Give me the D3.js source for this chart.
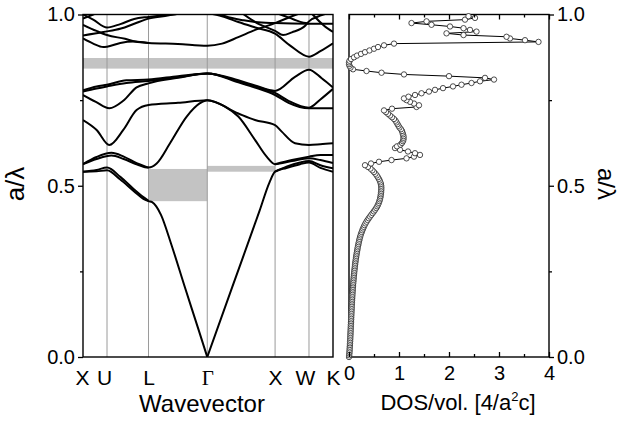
<!DOCTYPE html>
<html><head><meta charset="utf-8">
<script src="https://cdn.jsdelivr.net/npm/d3@7"></script>
<style>
body{margin:0;background:#fff}
svg{display:block}
text{font-family:"Liberation Sans",Arial,Helvetica,sans-serif;fill:#000}
</style>
</head><body>
<svg id="c" width="621" height="424"></svg>
<script>
// ---------- data ----------
const symLabels = ["X", "U", "L", "\u0393", "X", "W", "K"];
const symK = [0, 0.354, 0.966, 1.832, 2.832, 3.332, 3.686];

const freqTicks = [0, 0.5, 1.0];
const freqMinor = [0.25, 0.75];
const dosTicks = [0, 1, 2, 3, 4];
const dosMinor = [0.5, 1.5, 2.5, 3.5];

// complete gap and partial (direction) gaps: [kStart, kEnd, fLow, fHigh]
const fullGap = [0, 3.686, 0.842, 0.873];
const partialGaps = [
  [0.966, 1.832, 0.455, 0.549],
  [1.832, 2.832, 0.541, 0.558]
];

// photonic bands: [k, a/lambda]
const bandAcousticLeft1 = [[0,0.541],[0.2,0.542],[0.354,0.545],[0.55,0.518],[0.75,0.484],[0.89,0.462],[0.966,0.455],[1.02,0.452],[1.08,0.44],[1.15,0.415],[1.3,0.33],[1.5,0.205],[1.7,0.082],[1.832,0]];
const bandAcousticLeft2 = [[0,0.541],[0.2,0.546],[0.354,0.553],[0.55,0.526],[0.75,0.49],[0.89,0.467],[0.966,0.456]];
const bandAcousticRight1 = [[1.832,0],[2.2,0.204],[2.6,0.425],[2.75,0.51],[2.832,0.541],[3.0,0.552],[3.2,0.563],[3.332,0.568],[3.5,0.552],[3.686,0.541]];
const bandAcousticRight2 = [[2.832,0.541],[3.0,0.556],[3.2,0.568],[3.332,0.572],[3.5,0.56],[3.686,0.551]];
const band3 = [[0,0.563],[0.2,0.578],[0.42,0.588],[0.6,0.578],[0.8,0.562],[0.966,0.553],[1.086,0.565],[1.283,0.624],[1.529,0.702],[1.725,0.741],[1.832,0.75],[2.094,0.731],[2.29,0.702],[2.536,0.634],[2.708,0.585],[2.832,0.563],[3.08,0.572],[3.332,0.58],[3.5,0.575],[3.686,0.566]];
const band4Left = [[0,0.563],[0.2,0.584],[0.42,0.596],[0.6,0.585],[0.8,0.565],[0.966,0.553]];
const band4Right = [[2.832,0.563],[3.08,0.575],[3.332,0.585],[3.5,0.59],[3.686,0.59]];
const band5 = [[0,0.692],[0.201,0.663],[0.388,0.619],[0.594,0.663],[0.79,0.721],[0.966,0.736],[1.4,0.742],[1.832,0.75],[2.29,0.711],[2.536,0.692],[2.832,0.677],[2.93,0.658],[3.126,0.624],[3.332,0.619],[3.5,0.621],[3.686,0.624]];
const band7 = [[0,0.765],[0.19,0.745],[0.388,0.726],[0.594,0.748],[0.79,0.787],[0.966,0.799],[1.4,0.815],[1.832,0.828],[2.29,0.802],[2.536,0.787],[2.832,0.765],[3.03,0.742],[3.332,0.726],[3.5,0.726],[3.686,0.726]];
const band8 = [[0,0.775],[0.2,0.784],[0.354,0.79],[0.64,0.8],[0.966,0.806],[1.4,0.817],[1.832,0.828],[2.29,0.805],[2.536,0.79],[2.832,0.771],[3.03,0.748],[3.332,0.728],[3.5,0.752],[3.686,0.783]];
const band9 = [[0,0.779],[0.2,0.79],[0.354,0.795],[0.64,0.808],[0.966,0.81],[1.4,0.82],[1.832,0.828],[2.29,0.808],[2.536,0.793],[2.832,0.777],[3.126,0.818],[3.332,0.839],[3.519,0.814],[3.686,0.787]];
const bandTop1 = [[0,0.930],[0.15,0.915],[0.3,0.905],[0.354,0.906],[0.55,0.917],[0.75,0.921],[0.966,0.917],[1.4,0.914],[1.832,0.909],[2.05,0.915],[2.29,0.934],[2.54,0.955],[2.832,0.975],[3.08,0.995],[3.332,1.012]];
const bandTop2 = [[0,0.970],[0.2,0.952],[0.354,0.94],[0.62,0.929],[0.77,0.921],[0.966,0.917]];
const bandTop3 = [[0,0.939],[0.3,0.949],[0.56,0.959],[0.755,0.973],[0.966,0.988],[1.25,0.997],[1.5,1.005],[1.832,1.01]];
const bandTop4 = [[0,1.0],[0.15,0.985],[0.354,0.962],[0.55,0.972],[0.755,0.987],[0.966,0.993],[1.3,1.0],[1.832,1.005]];
const bandTop5 = [[0,0.988],[0.15,1.0],[0.3,1.012]];
const bandTop6 = [[1.832,1.005],[2.05,0.995],[2.29,0.978],[2.54,0.962],[2.832,0.944],[3.05,0.91],[3.332,0.877],[3.5,0.893],[3.686,0.916]];
const bandTop7 = [[1.832,1.02],[2.1,0.995],[2.37,0.983],[2.54,0.978],[2.832,0.975],[3.332,0.973],[3.686,0.973]];
const bandTop8 = [[2.29,1.012],[2.54,0.978],[2.832,0.952],[2.95,0.94],[3.08,0.948],[3.28,0.968],[3.332,0.98],[3.52,0.998],[3.686,1.01]];
const bandTop9 = [[3.3,1.02],[3.4,0.997],[3.55,0.968],[3.686,0.949]];
const bandTop10 = [[2.75,1.01],[2.95,0.997],[3.1,0.986],[3.25,0.976],[3.332,0.974]];

const bands = [bandAcousticLeft1, bandAcousticLeft2, bandAcousticRight1, bandAcousticRight2,
  band3, band4Left, band4Right, band5, band7, band8, band9,
  bandTop1, bandTop2, bandTop3, bandTop4, bandTop5, bandTop6, bandTop7, bandTop8, bandTop9, bandTop10];

// density of states: [a/lambda, DOS]
const dosPoints = [
[0.000,0.000],[0.005,0.004],[0.010,0.007],[0.015,0.010],[0.020,0.012],[0.025,0.014],[0.030,0.016],[0.035,0.018],[0.040,0.020],[0.045,0.022],
[0.050,0.024],[0.055,0.026],[0.060,0.027],[0.065,0.029],[0.070,0.030],[0.075,0.032],[0.080,0.033],[0.085,0.035],[0.090,0.036],[0.095,0.038],
[0.100,0.040],[0.105,0.041],[0.110,0.043],[0.115,0.044],[0.120,0.046],[0.125,0.047],[0.130,0.049],[0.135,0.050],[0.140,0.052],[0.145,0.054],
[0.150,0.055],[0.155,0.057],[0.160,0.059],[0.165,0.061],[0.170,0.063],[0.175,0.065],[0.180,0.067],[0.185,0.069],[0.190,0.071],[0.195,0.074],
[0.200,0.076],[0.205,0.079],[0.210,0.081],[0.215,0.084],[0.220,0.087],[0.225,0.090],[0.230,0.093],[0.235,0.096],[0.240,0.099],[0.245,0.103],
[0.250,0.106],[0.255,0.110],[0.260,0.114],[0.265,0.118],[0.270,0.122],[0.275,0.126],[0.280,0.131],[0.285,0.136],[0.290,0.141],[0.295,0.146],
[0.300,0.151],[0.305,0.157],[0.310,0.163],[0.315,0.169],[0.320,0.175],[0.325,0.182],[0.330,0.189],[0.335,0.196],[0.340,0.204],[0.345,0.212],
[0.350,0.221],[0.355,0.231],[0.360,0.242],[0.365,0.254],[0.370,0.267],[0.375,0.281],[0.380,0.296],[0.385,0.312],[0.390,0.330],[0.395,0.350],
[0.400,0.372],[0.405,0.395],[0.410,0.420],[0.415,0.446],[0.420,0.472],[0.425,0.498],[0.430,0.522],[0.435,0.545],[0.440,0.565],[0.445,0.582],
[0.450,0.596],[0.455,0.608],[0.460,0.618],[0.465,0.626],[0.470,0.632],[0.475,0.637],[0.480,0.641],[0.485,0.644],[0.490,0.646],[0.495,0.646],
[0.500,0.644],[0.505,0.638],[0.510,0.628],[0.515,0.615],[0.520,0.598],[0.525,0.578],[0.530,0.556],[0.535,0.530],[0.540,0.500],[0.545,0.468],
[0.550,0.430],[0.555,0.380],[0.560,0.320],[0.565,0.440],[0.570,0.600],[0.575,0.850],[0.580,1.150],[0.585,1.300],[0.590,1.420],[0.595,1.320],
[0.600,1.180],[0.605,1.020],[0.610,0.920],[0.615,0.960],[0.620,1.030],[0.625,1.060],[0.630,1.080],[0.635,1.090],[0.640,1.090],[0.645,1.090],
[0.650,1.080],[0.655,1.070],[0.660,1.060],[0.665,1.040],[0.670,1.010],[0.675,0.990],[0.680,0.970],[0.685,0.950],[0.690,0.930],[0.695,0.900],
[0.700,0.860],[0.705,0.820],[0.710,0.780],[0.715,0.740],[0.720,0.700],[0.725,0.860],[0.730,1.350],[0.735,1.400],[0.740,1.300],[0.745,1.220],
[0.750,1.150],[0.755,1.100],[0.760,1.190],[0.765,1.320],[0.770,1.450],[0.775,1.600],[0.780,1.720],[0.785,1.880],[0.790,2.080],[0.795,2.250],
[0.800,2.450],[0.805,2.620],[0.810,2.900],[0.815,2.720],[0.820,2.000],[0.825,1.100],[0.830,0.650],[0.835,0.350],[0.840,0.080],[0.845,0.030],
[0.850,0.010],[0.855,0.000],[0.860,0.000],[0.865,0.010],[0.870,0.040],[0.875,0.100],[0.880,0.160],[0.885,0.240],[0.890,0.320],[0.895,0.410],
[0.900,0.500],[0.905,0.580],[0.910,0.700],[0.915,0.900],[0.920,3.790],[0.925,3.520],[0.930,3.220],[0.935,3.150],[0.940,2.290],[0.945,1.950],
[0.950,2.550],[0.955,2.420],[0.960,2.290],[0.965,2.020],[0.970,1.650],[0.975,1.250],[0.980,1.550],[0.985,2.320],[0.990,2.520],[0.995,2.390]
];

// ---------- drawing ----------
const svg = d3.select("#c");
const L = {x0: 83, x1: 333, y0: 14.5, y1: 357};
const R = {x0: 349, x1: 549};

const xK = d3.scaleLinear().domain([0, 3.686]).range([L.x0, L.x1]);
const yF = d3.scaleLinear().domain([0, 1]).range([L.y1, L.y0]);
const xD = d3.scaleLinear().domain([0, 4]).range([R.x0, R.x1]);

svg.append("defs").append("clipPath").attr("id", "clipL")
  .append("rect").attr("x", L.x0).attr("y", L.y0).attr("width", L.x1 - L.x0).attr("height", L.y1 - L.y0);

const gL = svg.append("g").attr("clip-path", "url(#clipL)");

// gaps
const gapColor = "#c3c3c3";
[fullGap, ...partialGaps].forEach(g => {
  gL.append("rect")
    .attr("x", xK(g[0])).attr("width", xK(g[1]) - xK(g[0]))
    .attr("y", yF(g[3])).attr("height", yF(g[2]) - yF(g[3]))
    .attr("fill", gapColor);
});

// symmetry lines
gL.selectAll("line.sym").data(symK.slice(1, -1)).enter().append("line")
  .attr("x1", d => xK(d)).attr("x2", d => xK(d))
  .attr("y1", L.y0).attr("y2", L.y1)
  .attr("stroke", "#9a9a9a").attr("stroke-width", 1);

// bands
const line = d3.line().x(d => xK(d[0])).y(d => yF(d[1])).curve(d3.curveMonotoneX);
gL.selectAll("path.band").data(bands).enter().append("path")
  .attr("d", line).attr("fill", "none").attr("stroke", "#000").attr("stroke-width", 2);

// left panel frame
svg.append("rect").attr("x", L.x0).attr("y", L.y0).attr("width", L.x1 - L.x0).attr("height", L.y1 - L.y0)
  .attr("fill", "none").attr("stroke", "#000").attr("stroke-width", 1.4);

function styleAxis(g) {
  g.select(".domain").remove();
  g.selectAll(".tick line").attr("stroke", "#000").attr("stroke-width", 1.3);
}

// left y axis
svg.append("g").attr("transform", `translate(${L.x0},0)`)
  .call(d3.axisLeft(yF).tickValues(freqTicks).tickFormat(d3.format(".1f")).tickSize(5).tickPadding(3))
  .call(styleAxis).selectAll("text").style("font-size", "20px");
svg.append("g").attr("transform", `translate(${L.x0},0)`)
  .call(d3.axisLeft(yF).tickValues(freqMinor).tickFormat("").tickSize(3))
  .call(styleAxis);

// left x axis (symmetry labels)
const xAx = svg.append("g").attr("transform", `translate(0,${L.y1})`)
  .call(d3.axisBottom(xK).tickValues(symK).tickFormat((d, i) => symLabels[i]).tickSize(0).tickPadding(13))
  .call(styleAxis);
xAx.selectAll("text").style("font-size", "21px")
  .style("font-family", (d, i) => symLabels[i] === "\u0393" ? "'Liberation Serif','Times New Roman',serif" : null)
  .attr("dx", (d, i) => i === 1 ? -3 : (i === 5 ? -4 : (i === 0 ? -1 : 0)));

svg.append("text").attr("x", 202).attr("y", 412).attr("text-anchor", "middle")
  .style("font-size", "24px").text("Wavevector");
svg.append("text").attr("transform", "translate(24,184) rotate(-90)").attr("text-anchor", "middle")
  .style("font-size", "26px").text("a/\u03bb");

// ---------- DOS panel ----------
svg.append("rect").attr("x", R.x0).attr("y", L.y0).attr("width", R.x1 - R.x0).attr("height", L.y1 - L.y0)
  .attr("fill", "none").attr("stroke", "#000").attr("stroke-width", 1.4);

const dosLine = d3.line().x(d => xD(d[1])).y(d => yF(d[0]));
svg.append("path").datum(dosPoints).attr("d", dosLine)
  .attr("fill", "none").attr("stroke", "#000").attr("stroke-width", 1);
svg.selectAll("circle.dos").data(dosPoints).enter().append("circle")
  .attr("cx", d => xD(d[1])).attr("cy", d => yF(d[0])).attr("r", 2.7)
  .attr("fill", "#fff").attr("stroke", "#222").attr("stroke-width", 0.8);

// bottom axis DOS
svg.append("g").attr("transform", `translate(0,${L.y1})`)
  .call(d3.axisBottom(xD).tickValues(dosTicks).tickFormat(d3.format("d")).tickSize(-5).tickPadding(9))
  .call(styleAxis).selectAll("text").style("font-size", "20px");
svg.append("g").attr("transform", `translate(0,${L.y1})`)
  .call(d3.axisBottom(xD).tickValues(dosMinor).tickFormat("").tickSize(-3))
  .call(styleAxis);
// top axis DOS
svg.append("g").attr("transform", `translate(0,${L.y0})`)
  .call(d3.axisTop(xD).tickValues(dosTicks).tickFormat("").tickSize(-5))
  .call(styleAxis);
svg.append("g").attr("transform", `translate(0,${L.y0})`)
  .call(d3.axisTop(xD).tickValues(dosMinor).tickFormat("").tickSize(-3))
  .call(styleAxis);
// right axis
svg.append("g").attr("transform", `translate(${R.x1},0)`)
  .call(d3.axisRight(yF).tickValues(freqTicks).tickFormat(d3.format(".1f")).tickSize(5).tickPadding(3))
  .call(styleAxis).selectAll("text").style("font-size", "20px");
svg.append("g").attr("transform", `translate(${R.x1},0)`)
  .call(d3.axisRight(yF).tickValues(freqMinor).tickFormat("").tickSize(3))
  .call(styleAxis);

const dl = svg.append("text").attr("x", 458).attr("y", 410).attr("text-anchor", "middle").style("font-size", "22px");
dl.append("tspan").text("DOS/vol. [4/a");
dl.append("tspan").attr("dy", -9).style("font-size", "13px").text("2");
dl.append("tspan").attr("dy", 9).text("c]");

svg.append("text").attr("transform", "translate(598,184) rotate(90)").attr("text-anchor", "middle")
  .style("font-size", "24px").text("a/\u03bb");
</script>
</body></html>
